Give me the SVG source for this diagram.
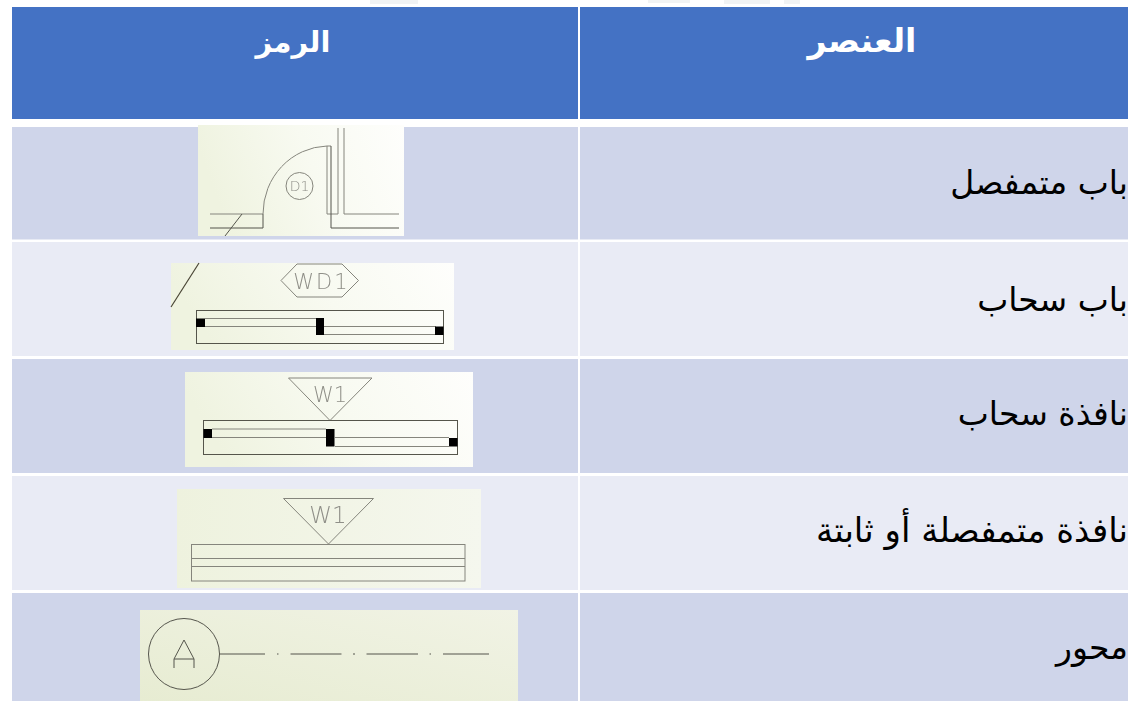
<svg xmlns="http://www.w3.org/2000/svg" width="1128" height="701" viewBox="0 0 1128 701">
<style>
.ar{font-family:"DejaVu Sans","Noto Sans",sans-serif;direction:rtl}
.h{font-size:33px;font-weight:700;fill:#fff;text-anchor:middle}
.c{font-size:34px;fill:#000;text-anchor:start}
.l{fill:none;stroke:#85857c;stroke-width:1}
.d{fill:none;stroke:#55554c;stroke-width:1}
.t{font-family:"DejaVu Sans",sans-serif;font-weight:200;fill:#8f8f88;text-anchor:middle}
.ink{filter:url(#b)}
</style>
<defs>
<filter id="b" x="-5%" y="-5%" width="110%" height="110%"><feGaussianBlur stdDeviation="0.35"/></filter>
<linearGradient id="g" x1="0" x2="1" y1="0.2" y2="0"><stop offset="0" stop-color="#eff3e0"/><stop offset="0.5" stop-color="#f8faf1"/><stop offset="1" stop-color="#fefefc"/></linearGradient>
<linearGradient id="g3" x1="0" x2="1" y1="0" y2="0"><stop offset="0" stop-color="#eef2de"/><stop offset="1" stop-color="#f5f7ee"/></linearGradient>
<linearGradient id="g2" x1="0" x2="1" y1="1" y2="0"><stop offset="0" stop-color="#e7ecd2"/><stop offset="1" stop-color="#f1f3e5"/></linearGradient>
</defs>
<rect width="1128" height="701" fill="#fff"/>
<g id="top-marks" fill="#f1f3f4">
<rect x="370" y="0" width="48" height="4"/>
<rect x="648" y="0" width="42" height="3"/>
<rect x="724" y="0" width="46" height="4"/>
<rect x="784" y="0" width="16" height="4"/>
</g>
<g id="table">
<rect x="12" y="7" width="566" height="112" fill="#4472c4"/>
<rect x="580" y="7" width="548" height="112" fill="#4472c4"/>
<rect x="12" y="127" width="566" height="112.500" fill="#cfd5ea"/>
<rect x="580" y="127" width="548" height="112.500" fill="#cfd5ea"/>
<rect x="12" y="242" width="566" height="114" fill="#e9ebf5"/>
<rect x="580" y="242" width="548" height="114" fill="#e9ebf5"/>
<rect x="12" y="359" width="566" height="114" fill="#cfd5ea"/>
<rect x="580" y="359" width="548" height="114" fill="#cfd5ea"/>
<rect x="12" y="476" width="566" height="114" fill="#e9ebf5"/>
<rect x="580" y="476" width="548" height="114" fill="#e9ebf5"/>
<rect x="12" y="593" width="566" height="108" fill="#cfd5ea"/>
<rect x="580" y="593" width="548" height="108" fill="#cfd5ea"/>
</g>
<g id="labels">
<text class="ar h" x="862" y="52">العنصر</text>
<text class="ar h" x="293" y="52" style="font-size:29px">الرمز</text>
<text class="ar c" x="1128" y="194" style="font-size:33px">باب متمفصل</text>
<text class="ar c" x="1128" y="311" style="font-size:33px">باب سحاب</text>
<text class="ar c" x="1128" y="425" style="font-size:33px">نافذة سحاب</text>
<text class="ar c" x="1128" y="542">نافذة متمفصلة أو ثابتة</text>
<text class="ar c" x="1128" y="659" style="font-size:33px">محور</text>
</g>
<g id="sym-door">
<rect x="198" y="125" width="206" height="111" fill="url(#g)"/>
<g class="ink">
<path class="l" d="M338 128V214M344 128V214H399M210 214H263M327 214H338M327 146V214"/>
<path class="l" d="M263 214A66 68 0 0 1 327 146H331"/>
<path class="d" d="M210 228H263V214M331 146V228H399"/>
<path class="d" d="M242 214L225 236"/>
<circle class="l" cx="299.500" cy="186" r="13.500"/>
<text class="t" x="299.500" y="191" font-size="14">D1</text>
</g>
</g>
<g id="sym-sliding-door">
<rect x="171" y="263" width="283" height="87" fill="url(#g)"/>
<g class="ink">
<path d="M171 307L199 263" fill="none" stroke="#4a4636" stroke-width="1.200"/>
<path class="l" d="M297 264H342L358.500 280.500L342 297H297L281 280.500Z"/>
<text class="t" x="321.500" y="289" font-size="21" letter-spacing="2">WD1</text>
<rect class="d" x="196.500" y="310.500" width="247" height="33"/>
<path class="l" d="M205 318.500H316M205 326.500H316M324 326.500H436M324 334.500H436" stroke-width="1.200"/>
<rect x="196" y="318.500" width="9" height="8.500"/><rect x="316" y="318" width="8" height="17"/><rect x="435" y="326.500" width="8.500" height="8.500"/>
</g>
</g>
<g id="sym-sliding-window">
<rect x="185" y="372" width="288" height="95" fill="url(#g)"/>
<g class="ink">
<path class="l" d="M288.500 378H372L330 420.500Z"/>
<text class="t" x="330" y="402" font-size="21">W1</text>
<rect class="d" x="203.500" y="420.500" width="254" height="34"/>
<path class="l" d="M212 429H326M212 437.500H326M335 437.500H449M335 446.500H449" stroke-width="1.200"/>
<rect x="203.500" y="429" width="8.500" height="9"/><rect x="326" y="429" width="8.500" height="17.500"/><rect x="449" y="438" width="8.500" height="8.500"/>
</g>
</g>
<g id="sym-fixed-window">
<rect x="177" y="489" width="304" height="99" fill="url(#g3)"/>
<g class="ink">
<path class="l" d="M283.500 498.500H373.500L328.500 544Z"/>
<text class="t" x="328" y="523" font-size="23">W1</text>
<rect class="l" x="191.500" y="544.500" width="273.500" height="36.500"/>
<path class="l" d="M192 558.500H465M192 566.500H465"/>
</g>
</g>
<g id="sym-axis">
<rect x="140" y="610" width="378" height="91" fill="url(#g2)"/>
<g class="ink">
<circle class="d" cx="184" cy="654" r="35.500" stroke-width="1.400"/>
<path class="d" d="M174 668V659L184 640L194 659V668M174 659H194" stroke-width="1.400"/>
<path class="d" d="M220 654H265M277 654H278.500M290.500 654H341.500M353 654H355M366.500 654H418M429.500 654H431M443 654H489" stroke-width="1.400"/>
</g>
</g>
</svg>
